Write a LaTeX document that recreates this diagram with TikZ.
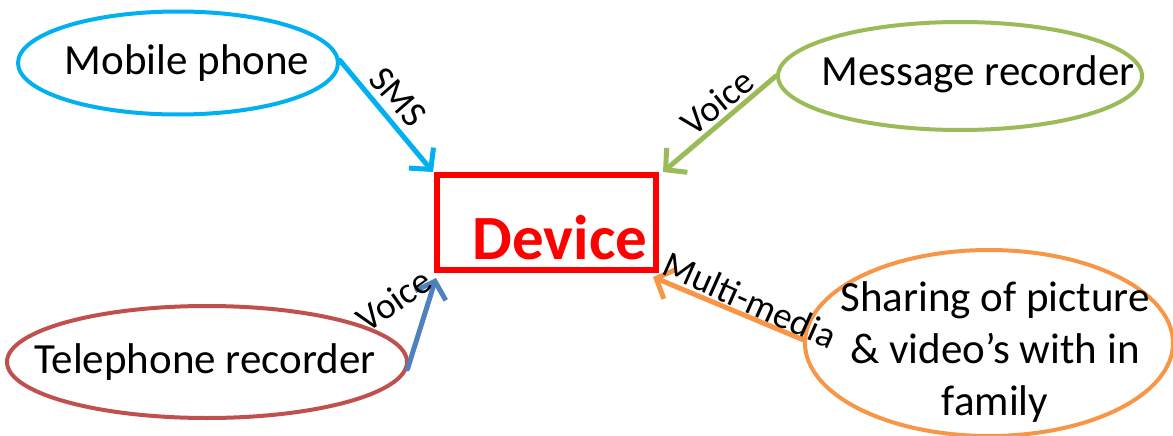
\documentclass[tikz,border=0pt]{standalone}
\usepackage{fontspec}
\setmainfont{Carlito}
\usetikzlibrary{shapes.geometric,arrows.meta}
\definecolor{cblue}{RGB}{0,176,240}
\definecolor{cgreen}{RGB}{155,187,89}
\definecolor{cred}{RGB}{192,80,77}
\definecolor{corange}{RGB}{247,150,70}
\definecolor{csteel}{RGB}{79,129,189}
\tikzset{
  oval/.style={ellipse, draw, line width=4pt, inner sep=0pt},
  maintext/.style={font=\fontsize{43}{52}\selectfont, align=center},
  lbl/.style={font=\fontsize{37}{40}\selectfont, inner sep=1pt, text=black},
  conn/.style={line width=5pt, -{Straight Barb[length=15pt,width=32pt,line width=5pt]}, line cap=round},
}
\begin{document}
\begin{tikzpicture}[x=1pt,y=1pt]
\useasboundingbox (0,0) rectangle (1173,-436);
% ellipses
\node[oval, draw=cblue, minimum width=320, minimum height=103] (mob) at (178,-63) {};
\node[oval, draw=cgreen, minimum width=364, minimum height=108] (msg) at (960,-76) {};
\node[oval, draw=cred, minimum width=400, minimum height=112] (tel) at (207,-362) {};
\node[oval, draw=corange, minimum width=368, minimum height=186] (shr) at (989,-343) {};
% texts
\node[maintext] (tmob) at (187,-63) {Mobile phone};
\node[maintext] (tmsg) at (978,-74) {Message recorder};
\node[maintext] (ttel) at (205,-362) {Telephone recorder};
\node[maintext] (tshr) at (995,-352) {Sharing of picture\\\& video’s with in\\family};
% device
\node[draw=red, line width=6pt, minimum width=219, minimum height=95, inner sep=0pt] (dev) at (546.5,-222.5) {};
\node[font=\fontsize{63}{70}\selectfont\bfseries, text=red] (tdev) at (560,-238) {Device};
% connectors
\coordinate (e1) at (433,-172);
\coordinate (e2) at (663,-172);
\coordinate (e3) at (436,-278);
\coordinate (e4) at (653,-277);
\draw[conn, cblue] (mob.1) -- (e1);
\draw[conn, cgreen] (msg.west) -- (e2);
\draw[conn, csteel] (tel.-2.3) -- (e3);
\draw[conn, corange] (shr.179) -- (e4);
% labels
\node[lbl, rotate=-49] (lsms) at (398,-97) {SMS};
\node[lbl, rotate=39] (lv1) at (717,-102) {Voice};
\node[lbl, rotate=35] (lv2) at (394,-300) {Voice};
\node[lbl, rotate=-24] (lmm) at (750,-300) {Multi-media};
\end{tikzpicture}
\end{document}
